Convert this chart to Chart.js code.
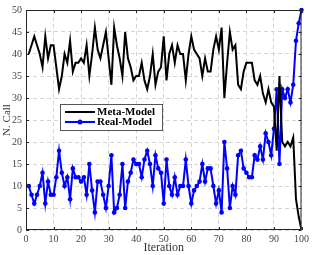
<!DOCTYPE html>
<html>
<head>
<meta charset="utf-8">
<script src="https://cdn.jsdelivr.net/npm/chart.js@4.4.1/dist/chart.umd.min.js"></script>
<style>
  body { margin: 0; background: #fff; }
  canvas { display: block; }
</style>
</head>
<body>
<canvas id="callChart" width="312" height="255"></canvas>
<script>
// Iteration index (x axis)
const iterations = Array.from({ length: 100 }, (_, i) => i + 1);

// Number of calls per iteration
const metaModel = [
  40, 42, 44, 42, 40, 37, 44, 39, 42, 42,
  37, 32, 35, 40, 38, 43, 36, 38, 38, 39,
  38, 42, 35, 40, 46, 41, 39, 42, 45, 39,
  33, 46, 42, 39, 35, 45, 39, 37, 34, 35,
  35, 38, 34, 32, 35, 40, 33, 36, 37, 44,
  34, 40, 42, 38, 42, 40, 40, 34, 40, 44,
  41, 40, 39, 35, 39, 36, 36, 41, 44, 41,
  46, 30, 38, 45, 41, 42, 33, 32, 36, 38,
  38, 38, 34, 33, 35, 31, 29, 32, 29, 28,
  18, 35, 20, 19, 20, 19, 21, 7, 3, 0
];
const realModel = [
  10, 8, 6, 8, 10, 13, 6, 11, 8, 8,
  12, 18, 13, 10, 12, 7, 14, 12, 12, 11,
  12, 8, 15, 9, 4, 11, 11, 8, 5, 10,
  17, 4, 5, 8, 15, 5, 11, 13, 16, 15,
  15, 12, 16, 18, 15, 10, 17, 14, 13, 6,
  16, 10, 8, 12, 8, 10, 10, 16, 10, 6,
  9, 10, 11, 15, 11, 14, 14, 10, 6, 9,
  4, 20, 14, 5, 10, 8, 17, 18, 14, 13,
  12, 12, 17, 16, 19, 16, 22, 20, 17, 23,
  32, 15, 32, 30, 32, 29, 33, 43, 47, 50
];

const seriesNames = ["Meta-Model", "Real-Model"];
const xTicks = [0, 10, 20, 30, 40, 50, 60, 70, 80, 90, 100];
const yTicks = [0, 5, 10, 15, 20, 25, 30, 35, 40, 45, 50];

const SERIF = "'Liberation Serif', 'DejaVu Serif', serif";

function toPoints(values) {
  return values.map((v, i) => ({ x: iterations[i], y: v }));
}

// box around the axes + small inward ticks (matlab look)
const framePlugin = {
  id: "frame",
  afterDraw(chart) {
    const { ctx, chartArea: a, scales } = chart;
    ctx.save();
    ctx.strokeStyle = "#262626";
    ctx.lineWidth = 1;
    ctx.strokeRect(a.left + 0.5, a.top + 0.5, a.right - a.left - 1, a.bottom - a.top - 1);
    ctx.beginPath();
    xTicks.forEach((t) => {
      const x = Math.round(scales.x.getPixelForValue(t)) + 0.5;
      ctx.moveTo(x, a.bottom); ctx.lineTo(x, a.bottom - 3);
      ctx.moveTo(x, a.top); ctx.lineTo(x, a.top + 3);
    });
    yTicks.forEach((t) => {
      const y = Math.round(scales.y.getPixelForValue(t)) + 0.5;
      ctx.moveTo(a.left, y); ctx.lineTo(a.left + 3, y);
      ctx.moveTo(a.right, y); ctx.lineTo(a.right - 3, y);
    });
    ctx.stroke();
    ctx.restore();
  },
};

// legend box inside the plot
const legendPlugin = {
  id: "boxLegend",
  afterDraw(chart) {
    const { ctx } = chart;
    const bx = 60, by = 104, bw = 102, bh = 26;
    ctx.save();
    ctx.fillStyle = "#fff";
    ctx.fillRect(bx, by, bw, bh);
    ctx.strokeStyle = "#555";
    ctx.lineWidth = 1;
    ctx.strokeRect(bx + 0.5, by + 0.5, bw, bh);
    chart.data.datasets.forEach((ds, i) => {
      const y = by + 8 + i * 10;
      ctx.strokeStyle = ds.borderColor;
      ctx.lineWidth = ds.borderWidth;
      ctx.beginPath();
      ctx.moveTo(bx + 5, y);
      ctx.lineTo(bx + 35, y);
      ctx.stroke();
      if (ds.pointRadius > 0) {
        ctx.fillStyle = ds.pointBackgroundColor;
        ctx.beginPath();
        ctx.arc(bx + 20, y, 2.5, 0, Math.PI * 2);
        ctx.fill();
      }
      ctx.fillStyle = "#000";
      ctx.font = "bold 11px " + SERIF;
      ctx.textBaseline = "middle";
      ctx.fillText(ds.label, bx + 37, y + 0.5);
    });
    ctx.restore();
  },
};

const ctx = document.getElementById("callChart").getContext("2d");
const callChart = new Chart(ctx, {
  type: "line",
  data: {
    datasets: [
      {
        label: seriesNames[0],
        data: toPoints(metaModel),
        borderColor: "#000000",
        borderWidth: 2,
        pointRadius: 0,
        tension: 0,
      },
      {
        label: seriesNames[1],
        data: toPoints(realModel),
        borderColor: "#0000ff",
        backgroundColor: "#0000ff",
        pointBackgroundColor: "#0000ff",
        pointBorderColor: "#0000ff",
        borderWidth: 2,
        pointRadius: 2.3,
        pointBorderWidth: 0,
        tension: 0,
        clip: 4,
      },
    ],
  },
  options: {
    responsive: false,
    animation: false,
    layout: { padding: { top: 3, right: 6, left: 0, bottom: 0 } },
    plugins: {
      legend: { display: false },
      tooltip: { enabled: false },
    },
    scales: {
      x: {
        type: "linear",
        min: 0,
        max: 100,
        afterBuildTicks: (scale) => { scale.ticks = xTicks.map((v) => ({ value: v })); },
        afterFit: (scale) => { scale.height = 25; },
        ticks: { color: "#444", padding: 3, font: { family: SERIF, size: 10 } },
        grid: { color: "#d4d4d4", drawTicks: false },
        border: { display: false, dash: [4, 3] },
        title: {
          display: true,
          text: "Iteration",
          color: "#333",
          padding: 0,
          font: { family: SERIF, size: 12 },
        },
      },
      y: {
        min: 0,
        max: 50,
        afterBuildTicks: (scale) => { scale.ticks = yTicks.map((v) => ({ value: v })); },
        afterFit: (scale) => { scale.width = 26; },
        ticks: { color: "#444", padding: 4, font: { family: SERIF, size: 10 } },
        grid: { color: "#d4d4d4", drawTicks: false },
        border: { display: false, dash: [4, 3] },
        title: {
          display: true,
          text: "N. Call",
          color: "#333",
          padding: { top: 1, bottom: 0 },
          font: { family: SERIF, size: 11 },
        },
      },
    },
  },
  plugins: [framePlugin, legendPlugin],
});
</script>
</body>
</html>
